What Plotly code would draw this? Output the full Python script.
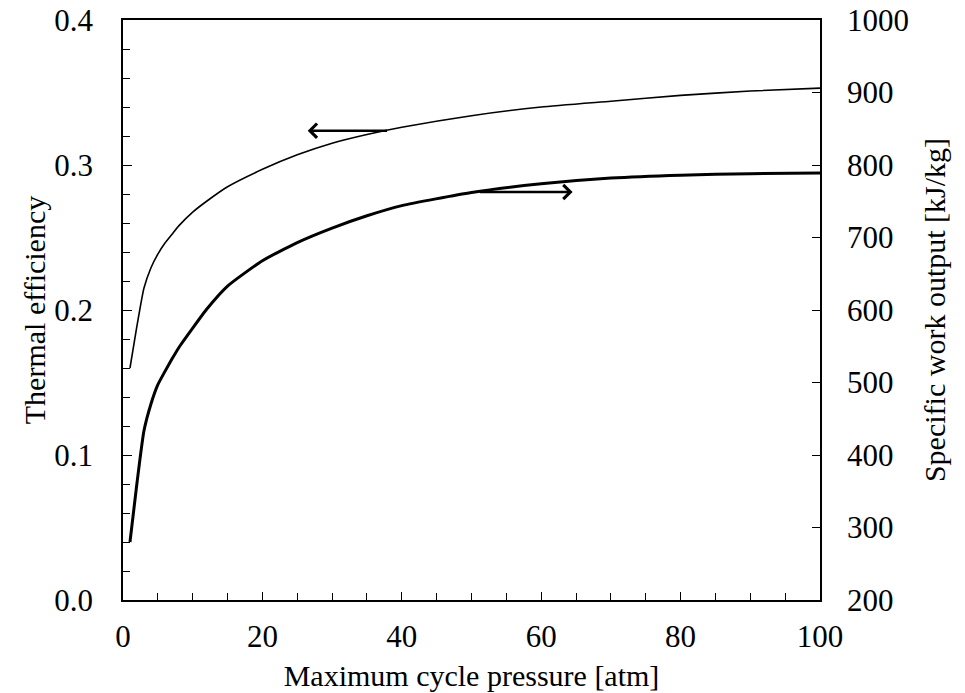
import plotly.graph_objects as go

# Maximum cycle pressure [atm]
pressure = [1, 2, 3, 4, 5, 6, 7, 8, 10, 12, 15, 20, 25, 30, 35, 40, 50, 60, 70, 80, 90, 100]
# Thermal efficiency (left axis)
efficiency = [0.160, 0.189, 0.215, 0.229, 0.2385, 0.246, 0.252, 0.258, 0.2675, 0.275, 0.285, 0.297,
              0.307, 0.315, 0.321, 0.326, 0.334, 0.340, 0.344, 0.348, 0.351, 0.353]
# Specific work output [kJ/kg] (right axis)
work = [280, 361, 433, 470, 497, 515, 532, 548, 575, 601, 633, 668,
        693, 713, 730, 744, 762, 774, 782, 786, 788, 789]

# arrow indicators: (tail x, head x, y)
eff_arrow = [38.1, 26.5, 0.3237]
work_arrow = [51.0, 64.5, 762.7]

FONT = '"Liberation Serif", "Times New Roman", serif'
TICK_FS = 31
TITLE_FS = 30

fig = go.Figure()
fig.add_trace(go.Scatter(x=pressure, y=efficiency, mode="lines", line_shape="spline",
                         line=dict(color="black", width=1.6, smoothing=0.5), showlegend=False))
fig.add_trace(go.Scatter(x=pressure, y=work, mode="lines", yaxis="y2", line_shape="spline",
                         line=dict(color="black", width=3, smoothing=0.5), showlegend=False))

fig.add_annotation(x=eff_arrow[1], y=eff_arrow[2], ax=eff_arrow[0], ay=eff_arrow[2],
                   xref="x", yref="y", axref="x", ayref="y", text="", showarrow=True,
                   arrowhead=4, arrowsize=1.1, arrowwidth=2.5, arrowcolor="black")
fig.add_annotation(x=work_arrow[1], y=work_arrow[2], ax=work_arrow[0], ay=work_arrow[2],
                   xref="x", yref="y2", axref="x", ayref="y2", text="", showarrow=True,
                   arrowhead=4, arrowsize=1.1, arrowwidth=2.5, arrowcolor="black")

fig.update_layout(
    width=965, height=693,
    margin=dict(l=123, r=145, t=20, b=93, autoexpand=False),
    paper_bgcolor="white", plot_bgcolor="white",
    font=dict(family=FONT, size=TICK_FS, color="black"),
    xaxis=dict(range=[0, 100], dtick=20, showgrid=False, zeroline=False, automargin=False,
               showline=True, linecolor="black", linewidth=1.5, mirror=True,
               ticks="inside", ticklen=8, tickwidth=1.2, tickcolor="black",
               minor=dict(dtick=5, ticks="inside", ticklen=7, tickwidth=1.2, tickcolor="black", showgrid=False),
               ticklabelstandoff=8, ticklabeloverflow="allow",
               title=dict(text="Maximum cycle pressure [atm]", standoff=12,
                          font=dict(size=TITLE_FS))),
    yaxis=dict(range=[0, 0.4], dtick=0.1, tickformat=".1f", showgrid=False, zeroline=False,
               automargin=False,
               showline=True, linecolor="black", linewidth=1.5,
               ticks="inside", ticklen=9, tickwidth=1.2, tickcolor="black",
               minor=dict(dtick=0.02, ticks="inside", ticklen=7, tickwidth=1.2, tickcolor="black", showgrid=False),
               ticklabelstandoff=22, ticklabeloverflow="allow",
               title=dict(text="Thermal efficiency", standoff=0, font=dict(size=TITLE_FS))),
    yaxis2=dict(range=[200, 1000], dtick=100, overlaying="y", side="right",
                showgrid=False, zeroline=False, automargin=False,
                showline=True, linecolor="black", linewidth=1.5,
                ticks="inside", ticklen=8, tickwidth=1.2, tickcolor="black",
                ticklabelstandoff=19, ticklabeloverflow="allow",
                title=dict(text="Specific work output [kJ/kg]", standoff=16,
                           font=dict(size=TITLE_FS))),
)

fig.write_html("out.html", config={"displayModeBar": False},
               post_script="document.body.style.margin='0';document.body.style.overflow='hidden';")
